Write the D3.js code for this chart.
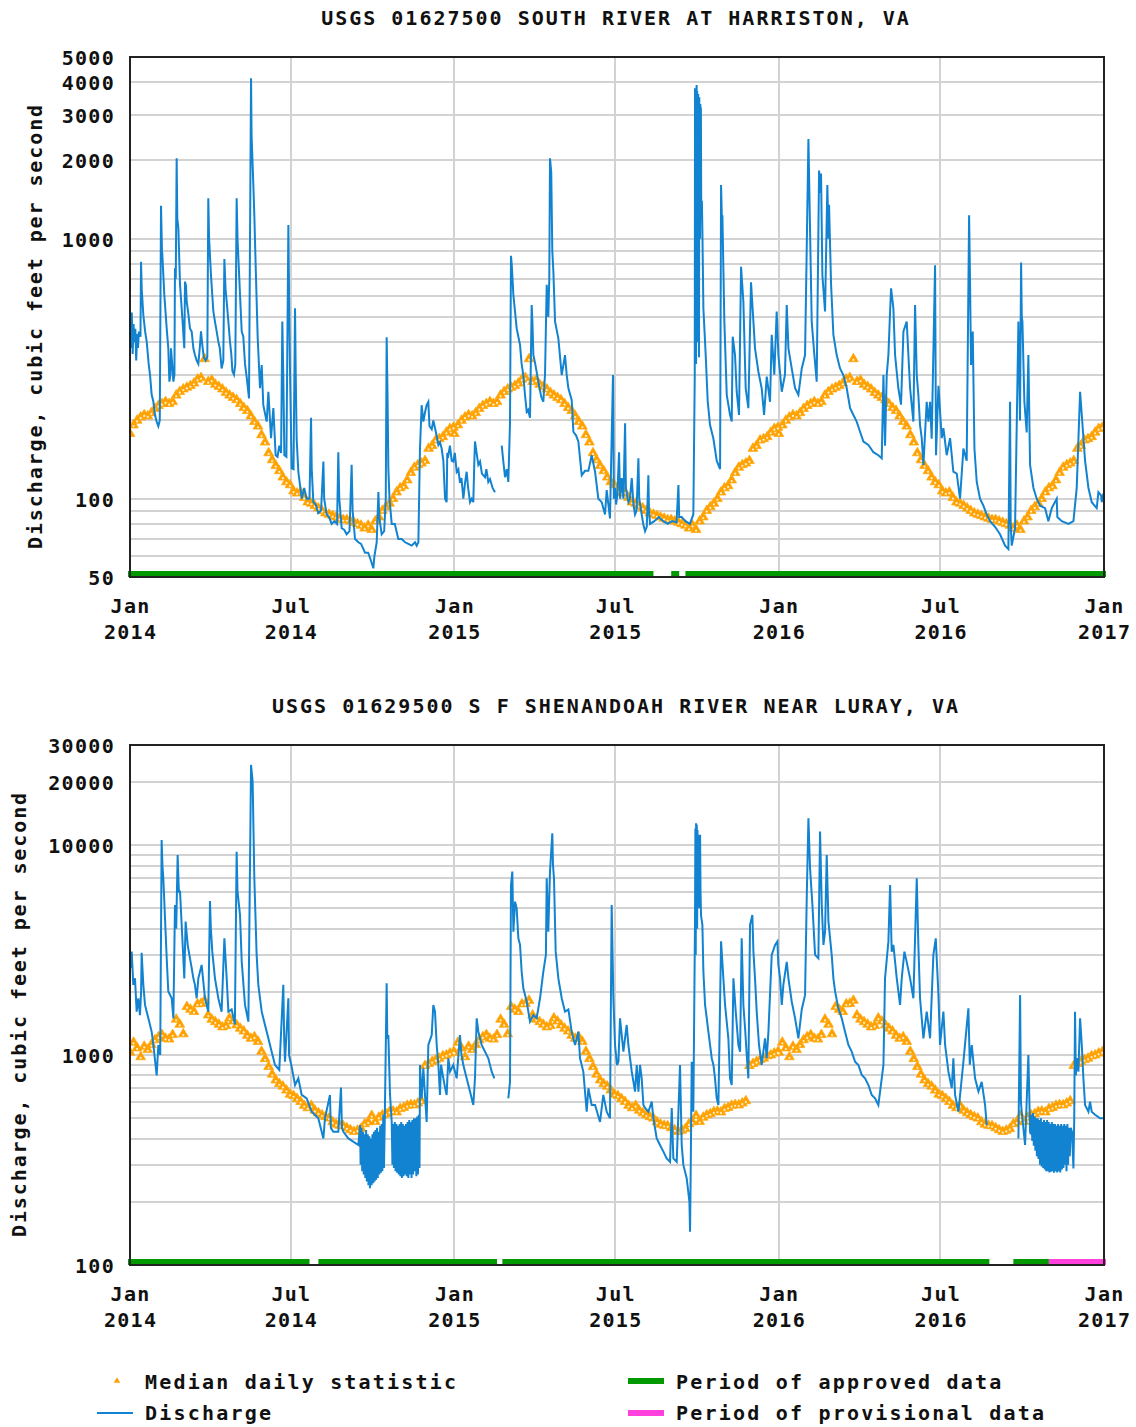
<!DOCTYPE html>
<html><head><meta charset="utf-8">
<script src="https://cdn.jsdelivr.net/npm/d3@7"></script>
<style>
html,body{margin:0;padding:0;background:#fff;}
svg text{font-family:"DejaVu Sans Mono",monospace;font-weight:bold;fill:#111;}
</style></head><body>
<svg id="chart" width="1136" height="1427"></svg>
<script>
// ---------------- DATA ----------------
// Discharge: [days since 2014-01-01, cubic feet per second]; null = no data
const southFlow = [
[0,480],[1,380],[2,520],[3,360],[4,470],[5,400],[6,450],[7,340],[8,430],[9,380],[10,440],[11.8,420],[12.4,816],[13.2,640],[15,509],[17,440],[18.8,402],[21,330],[22.5,300],[24.4,251],[26.3,236],[28.1,210],[30,198],[31.9,190],[33.5,200],[34.9,1340],[36,900],[36.4,866],[38.6,608],[41.3,452],[43.1,379],[44.3,282],[45.5,300],[46.1,379],[47.5,330],[48.8,282],[50,300],[50.6,770],[51.5,700],[52.5,2040],[53.2,1200],[54.4,1100],[56.3,665],[58.9,495],[61.1,379],[61.9,684],[63,660],[63.8,573],[65.5,520],[67.5,452],[69.4,440],[71.3,379],[73.1,357],[75,340],[76.9,330],[78.5,380],[79.9,440],[81.4,390],[83,350],[85,340],[87,350],[88.1,1430],[89,1000],[91.1,725],[93.8,525],[95.6,480],[97.5,440],[99.4,402],[101,380],[103.1,317],[105,340],[106.2,835],[107.5,640],[108.8,573],[110.7,480],[112.5,402],[114,360],[115.2,310],[117,300],[118.5,330],[120,1430],[121,1000],[123.8,608],[125.7,440],[127.5,420],[129.4,330],[131.5,290],[133.9,243],[136.2,4140],[136.8,2500],[138.8,1610],[140,1200],[141.4,790],[143.7,414],[146.3,266],[148.2,327],[150,229],[153.8,198],[155.7,258],[158.7,171],[161.3,223],[163.9,147],[166,145],[168,160],[170,150],[171.4,480],[172.5,300],[173.7,147],[176,145],[178.2,1130],[179,600],[180,317],[181.9,131],[184,130],[185.7,540],[186.5,300],[187.5,171],[189.4,127],[193.2,100],[196,110],[198.8,100],[202,100],[203.7,205],[204.5,130],[206.3,97],[209,95],[211.9,88],[215,90],[217.6,139],[218.5,100],[221.3,87],[224,85],[226.9,80],[230,82],[233,80],[234.4,151],[235.5,100],[238.2,77],[241,76],[243.8,73],[247,75],[249.4,135],[250.5,90],[253.2,70],[257,68],[260,67],[264.5,62],[268,62],[271,58],[273.8,54],[275,60],[277.6,68],[279.5,106],[280.5,85],[283.2,73],[286,75],[287.8,100],[288.8,418],[289.8,250],[290.7,131],[292,100],[294.5,80],[298,80],[301.9,70],[305.7,70],[309.5,68],[313.2,67],[317,66],[320.7,68],[322.6,66],[324.5,68],[326.3,156],[328.2,229],[330.1,198],[332,215],[333.8,229],[335.7,236],[337,190],[339.5,185],[341.3,200],[343.2,187],[345,175],[347,161],[348.8,165],[350.7,156],[352.6,140],[354.5,100],[356.3,97],[357,150],[358.2,147],[360,160],[362,140],[363.8,139],[365.5,150],[367.6,127],[369.5,130],[371.3,115],[373,120],[375.1,100],[377,115],[378.8,127],[380.5,110],[382.6,97],[384.5,100],[386.3,97],[387.5,140],[388.2,166],[390,150],[392,135],[393.9,139],[396,125],[399.5,121],[401,130],[403.2,116],[405.1,119],[408,110],[410.7,106],[414,null],[418.3,160],[420,140],[422,121],[424,130],[425.7,116],[427.6,195],[428.7,860],[429.5,800],[431.4,608],[435.1,452],[437,420],[438.9,390],[440.7,330],[442.6,299],[444.5,250],[446.4,216],[448,220],[450.1,205],[452,556],[452.8,480],[453.9,357],[456,330],[459.5,282],[461.4,260],[463,245],[465.1,236],[467,300],[468.9,665],[470.7,500],[471.8,700],[472.6,2040],[474,1800],[475.2,900],[476.4,747],[478.3,480],[482,414],[485.8,299],[489.5,357],[491.4,299],[493.3,266],[497,240],[498.9,181],[502,175],[504.5,166],[508.3,123],[512,128],[515.8,128],[519.5,147],[523.3,127],[527,100],[530.8,97],[534.5,87],[536.4,108],[540.1,84],[543.5,299],[544.5,100],[545.8,110],
[547,95],[548.5,105],[550.3,151],[551.5,100],[553.3,120],[555.2,100],[557.1,195],[558,110],[560.8,97],[562.5,100],[564.6,120],[566.5,95],[568.3,87],[570,90],[572.1,143],[573,100],[575.8,87],[577.5,80],[579.6,75],[581.5,78],[583.3,123],[584,90],[585.2,80],[590,82],[595,85],[600,82],[605,80],[610,82],[615,81],[617.1,113],[618,85],[620.8,85],[625,82],[630,80],[633.9,87],[635.5,300],[635.8,3790],[636.1,3700],[636.4,400],[636.7,3500],[637,330],[637.3,3600],[637.6,3900],[637.9,900],[638.2,3700],[638.5,500],[638.8,3500],[639.1,400],[639.4,3600],[639.7,600],[640,3400],[640.3,350],[640.6,3500],[640.9,1500],[641.2,3300],[641.5,1000],[641.8,3300],[642.1,1200],[642.4,3200],[642.7,1500],[643,1200],[643.5,1400],[644.1,1065],[645.2,540],[647.8,357],[650.1,236],[652.7,192],[656.5,170],[660.2,140],[664,130],[665.1,1610],[666,1200],[666.6,1230],[668.8,480],[671.5,251],[675.2,210],[677.1,198],[678.2,420],[680.8,357],[682.7,258],[685.3,210],[687.6,780],[690.2,573],[692.8,266],[695.8,223],[698.8,680],[701.5,480],[703.3,379],[707.1,308],[710.8,266],[713.5,210],[716.5,295],[720.2,236],[722.1,427],[725,300],[727.7,525],[729.6,357],[733.4,258],[737,300],[739,556],[740.9,379],[744.6,317],[748.4,266],[752.1,251],[755.9,317],[759.6,357],[761.5,920],[763.4,2420],[764.5,1500],[765.2,1096],[767.1,480],[770.1,357],[772.7,282],[775.4,1830],[776.5,1500],[777.6,1780],[779.1,725],[782.1,525],[784.7,1610],[786,1000],[786.6,1350],[788.9,665],[791.5,427],[795.2,357],[799,317],[802.7,299],[806.5,266],[810.3,223],[814,210],[817.7,198],[821.5,181],[825.3,166],[830.9,161],[836.5,151],[842.1,147],[845.9,143],[847.8,299],[849.6,160],[851.5,299],[853.4,357],[855.3,525],[856.4,645],[859,540],[860.9,357],[864.6,266],[867.6,230],[870.3,440],[874,480],[875.9,357],[877.8,266],[881.5,198],[883.4,556],[885.3,299],[887.1,251],[889,192],[890.9,171],[892.8,135],[896.5,236],[898.4,198],[900.3,236],[902.1,170],[905.9,790],[907,147],[909.7,272],[913.4,171],[915.3,187],[919,147],[922.8,171],[926.5,127],[930.3,125],[934,100],[937.8,156],[941.5,140],[944.2,1230],[945,800],[946.4,327],[948.3,440],[950.2,156],[952.8,116],[956.5,100],[960.3,94],[964,87],[967.8,82],[973.4,78],[979,73],[984.7,66],[988.4,64],[990.3,236],[991,80],[992.2,66],[995.9,77],[999.7,480],[1001.5,200],[1002.7,810],[1003.5,500],[1004.2,480],[1006.4,236],[1009,180],[1010.9,357],[1012.8,135],[1016.6,110],[1020.3,100],[1024.1,94],[1029.7,92],[1033.4,82],[1037.2,92],[1042.8,100],[1043.5,85],[1048.5,82],[1056,80],[1061.6,82],[1065.3,110],[1069.1,258],[1071,210],[1074.7,140],[1078.5,110],[1082.2,97],[1087.8,92],[1089.7,106],[1092.7,103],[1093.5,97],[1095.5,105]
];

const lurayFlow = [
[1,2600],[1.9,3110],[3,2500],[3.7,2160],[5.6,2320],[7.5,1610],[9.4,1865],[11.2,1550],[12.5,2000],[13.1,3070],[15,2160],[16.9,1733],[18.8,1610],[20.6,1500],[24.4,1290],[26.3,1117],[30,800],[31.9,1117],[34,1000],[35.6,10590],[36.5,8000],[37.5,6950],[39.4,4480],[41.3,2890],[43.1,2010],[46.9,1865],[48.8,1497],[50.6,5190],[52,4000],[53.6,8980],[55,6000],[56.3,6010],[58.9,3600],[61.1,2320],[62.6,4330],[64.9,3350],[67.5,2890],[69.4,2600],[71.3,2320],[73.1,2160],[75,1865],[76.9,2320],[80.6,2690],[84.4,1865],[88.1,1610],[90,5420],[91,4000],[92.6,3110],[95.6,2320],[99.4,1865],[103.1,1610],[106.2,3600],[108.8,2320],[110.7,1610],[114.4,1650],[118,1400],[120,9310],[121,6000],[123.8,4650],[125.7,2790],[129.4,1733],[133.2,1443],[136.2,24100],[138,20070],[139.9,6950],[142.5,3000],[144.4,2160],[148.2,1610],[151.9,1391],[155.7,1202],[159.4,1038],[163.2,897],[168,850],[172.5,2160],[173.5,1200],[174.4,930],[178.2,1865],[179,1000],[181.9,880],[185.7,720],[189.4,775],[193.2,646],[198.8,622],[204.5,537],[211.9,500],[217.6,401],[219.4,500],[225,645],[226,450],[228.8,431],[234.4,431],[237.4,700],[238.5,450],[240.1,431],[245.7,401],[257,373],
[258.8,464],[259.5,300],[260.5,450],[261.3,280],[262.3,430],[263,270],[264,420],[264.8,260],[265.7,440],[266.5,250],[267.5,420],[268.3,240],[269.3,410],[270,232],[271,400],[271.8,240],[272.8,420],[273.6,245],[274.5,431],[275.3,250],[276.3,440],[277,255],[278,450],[278.8,260],[279.8,431],[280.6,270],[281.5,460],[282.3,275],[283.3,470],[284,280],[285,520],[285.8,290],[286.8,537],[288.8,2200],[289.5,1200],[290.7,1245],[292.6,646],[294.5,480],
[295.3,300],[296.2,470],[297,290],[298,480],[298.8,280],[299.8,470],[300.6,275],[301.6,460],[302.4,270],[303.4,470],[304.2,265],[305.2,480],[306,260],[307,470],[307.8,265],[308.8,460],[309.6,270],[310.6,470],[311.4,265],[312.4,480],[313.2,260],[314.2,490],[315,270],[316,480],[316.8,260],[317.8,490],[318.6,270],[319.6,500],[320.4,280],[321.4,500],[322.2,265],[323.2,510],[324,270],[325,520],[325.8,290],[326.3,897],[328.2,622],[330.1,866],[333.8,480],[335.7,1117],[339.5,1245],[341.3,1733],[343.2,1610],[345.1,1117],[347,897],[348.8,646],[350,900],[352.6,775],[354.5,700],[356.3,646],[358.2,966],[360.1,834],[363.8,897],[367.6,775],[371.3,1245],[373,1000],[375.1,897],[378.8,775],[382.6,670],[386.3,578],[388.2,775],[390.1,1497],[392,1293],[395.7,1117],[399.5,1038],[403.2,966],[407,834],[410,775],[414,null],
[425.7,622],[427.6,745],[428.7,6460],[430.2,7480],[431.4,3870],[433.3,5380],[435.1,5000],[437,3600],[438.9,3350],[440.7,2500],[442.6,2080],[446.4,1800],[450.1,1443],[453.9,1550],[457.6,1500],[461.4,1865],[465.1,2500],[468,3000],[468.9,6950],[470.7,3870],[472.6,7480],[475.2,11400],[476,8000],[477.1,6950],[479,3110],[482,2320],[485.8,1865],[489.5,1610],[493.3,1650],[497,1293],[500.8,1117],[504.5,1293],[506.4,966],[510.1,834],[513.9,537],[515.8,695],[519.5,578],[523.3,578],[528.9,480],[532.6,646],[536.4,537],[540.1,500],[542,5190],[543.9,1865],[545.8,1117],[548,897],
[549.6,930],[551.4,1497],[553.3,1245],[555.2,1038],[558.9,1391],[560.8,1117],[564.6,834],[568.3,670],[570.2,897],[572.1,670],[573.9,897],[575.8,775],[577.7,578],[579.6,560],[583.3,537],[587.1,600],[588.9,500],[592.7,401],[596.4,373],[600.2,347],[603.9,322],[607.7,310],[609.6,560],[611.4,322],[615.2,310],[618.9,897],[620.8,373],[622.7,299],[624.6,278],[626.4,259],[629.5,200],[630.2,144],[631,300],[632.1,930],[633.9,537],[635.8,4480],[636.2,12000],[636.6,3000],[637,12700],[637.4,5000],[637.8,12500],[638.2,4000],[638.6,11800],[639,6000],[639.4,11000],[639.8,8000],[640.2,11200],[640.6,5000],[641,10800],[641.5,11200],[642,6000],[642.6,4600],[644.1,4170],[645.2,2500],[647.1,1733],[649,1497],[650.8,1293],[652.7,1117],[654.6,966],[656.5,897],[658.3,775],[660.2,622],[662.1,578],[665.1,3480],[667.7,2320],[669.6,1733],[673.3,1202],[675.2,775],[677.1,720],[679,2320],[681.6,1610],[684.6,1117],[686.5,1038],[688.3,3600],[690.2,1733],[692.1,1342],[694,1000],[695.8,775],[697.7,4170],[700.3,4650],[701.5,3110],[703.3,2320],[705.2,1610],[707.8,1117],[710.8,897],[714.6,1202],[716.5,966],[718.4,1293],[722.1,3000],[725.9,3350],[728.5,3480],[729.6,2690],[731.5,2320],[733.4,1733],[735.2,2160],[739,2780],[740.9,2320],[744.6,1800],[748.4,1497],[752.1,1202],[755.9,1650],[759.6,1930],[761.5,5600],[763.4,13430],[765.2,7800],[767.9,5190],[770.9,3000],[774.6,2890],[776.5,11600],[778.4,5190],[780.3,3350],[782.1,3870],[784,8980],[785.9,4330],[789.6,3000],[791.5,2320],[793.4,2010],[797.1,1670],[800.9,1497],[804.6,1293],[808.4,1117],[812.1,1038],[815.9,930],[819.6,897],[823.4,805],[827.1,775],[830.9,720],[834.6,646],[838.4,622],[842.1,578],[845.9,775],[847.8,897],[849.6,2320],[853.4,3480],[855.3,6460],[857.1,3110],[859,3350],[862.8,2320],[866.5,1733],[868.4,2320],[871.4,3110],[874,2780],[877.8,2320],[881.5,1865],[885.3,6950],[887.1,3350],[889,1865],[892.8,1202],[896.5,1610],[900.3,1202],[904,3000],[906.7,3600],[909.7,1935],[911.5,1117],[915.3,1610],[917.2,1117],[920.9,834],[924.7,695],[926.5,966],[928.4,646],[932.2,537],[937.8,930],[943.4,1670],[945,900],[947.2,1117],[950.9,775],[954.7,670],[958.4,745],[962.2,578],[964,464],[980,null],
[999.7,401],[1001.6,1930],[1002.5,600],[1003.4,537],[1007.2,373],[1010.9,1000],[1012.8,431],[1013.6,420],[1014.5,520],[1015.3,390],[1016.2,530],[1017,370],[1018,510],[1018.8,350],[1019.7,500],[1020.5,330],[1021.5,500],[1022.3,320],[1023.2,490],[1024,300],[1025,500],[1025.8,295],[1026.8,480],[1027.6,290],[1028.5,490],[1029.3,285],[1030.3,480],[1031,280],[1032,490],[1032.8,280],[1033.8,480],[1034.6,276],[1035.5,470],[1036.3,278],[1037.3,480],[1038,280],[1039,470],[1039.8,275],[1040.8,470],[1041.6,280],[1042.5,460],[1043.3,276],[1044.3,470],[1045,280],[1046,460],[1046.8,276],[1047.8,470],[1048.6,285],[1049.5,460],[1050.3,290],[1051.3,470],[1052,300],[1053,460],[1053.8,280],[1054.8,470],[1055.6,300],[1056.5,450],[1057.5,330],[1058.5,450],[1060,430],[1061.6,288],[1062.5,500],[1063.4,1610],[1064.3,800],[1065.3,966],[1067.2,834],[1069.1,1497],[1071,1117],[1072.8,775],[1074.7,578],[1078.5,537],[1080.3,600],[1082.2,537],[1086,520],[1091.6,500],[1095.5,500]
];

// Median daily statistic, every 4th day of the year (day 0, 4, 8 ... 364)
const southMedian = [178,192,200,206,210,208,214,222,228,232,236,232,236,250,258,264,268,272,278,288,292,345,282,286,275,270,264,256,250,245,240,232,224,218,208,198,190,176,165,150,141,134,128,121,116,113,107,105,106,101,97,96,94,92,90,88,87,86,85,84,83,83,82,81,80,79,77,79,76,82,85,90,93,96,100,106,110,112,118,126,132,135,137,140,156,160,168,170,173,180,186,188];
const lurayMedian = [1030,1150,1080,980,1100,1060,1120,1180,1220,1250,1200,1190,1250,1480,1400,1260,1700,1650,1610,1750,1760,1820,1550,1480,1440,1400,1360,1380,1500,1450,1390,1340,1300,1240,1200,1220,1160,1040,960,880,810,760,730,710,680,650,640,620,600,575,560,575,545,530,518,508,500,480,468,462,460,450,440,432,438,446,470,480,515,482,505,518,525,537,540,535,555,562,575,580,578,590,605,890,910,930,950,965,990,1000,1020,1035];
const medianYears = [2014, 2015, 2016];

// Data-status periods
const southApproved = [["2014-01-01","2015-08-13"],["2015-09-02","2015-09-11"],["2015-09-18","2017-01-01"]];
const southProvisional = [];
const lurayApproved = [["2014-01-01","2014-07-22"],["2014-08-01","2015-02-18"],["2015-02-24","2016-08-25"],["2016-09-21","2016-10-31"]];
const lurayProvisional = [["2016-10-31","2017-01-01"]];

// Axis labels
const southYTicks = [50,100,1000,2000,3000,4000,5000];
const lurayYTicks = [100,1000,10000,20000,30000];
const xTickMonths = ["Jan","Jul","Jan","Jul","Jan","Jul","Jan"];
const xTickYears = ["2014","2014","2015","2015","2016","2016","2017"];
const southTitle = "USGS 01627500 SOUTH RIVER AT HARRISTON, VA";
const lurayTitle = "USGS 01629500 S F SHENANDOAH RIVER NEAR LURAY, VA";
const yAxisTitle = "Discharge, cubic feet per second";
const legendItems = ["Median daily statistic","Discharge","Period of approved data","Period of provisional data"];

// ---------------- DRAW ----------------
const BLUE = "#1283d0", ORANGE = "#ffa000", GREEN = "#009a00", PINK = "#ff40dd", GRID = "#d2d2d2";
const FS = 20;
const svg = d3.select("#chart");
const START = Date.UTC(2014,0,1);
const END = Date.UTC(2017,0,1);
const toDate = d => new Date(START + d*864e5);
const parse = s => new Date(s + "T00:00:00Z");
const L = 130, R = 1104;
const x = d3.scaleUtc().domain([new Date(START), new Date(END)]).range([L, R]);

function drawPanel(cfg, idx) {
  const y = d3.scaleLog().domain(cfg.domain).range([cfg.bottom, cfg.top]);
  const g = svg.append("g");
  // grid
  g.append("g").selectAll("line").data(y.ticks()).join("line")
    .attr("x1", L).attr("x2", R).attr("y1", d => Math.round(y(d))).attr("y2", d => Math.round(y(d)))
    .attr("stroke", GRID).attr("stroke-width", 2);
  const xt = x.ticks(d3.utcMonth.every(6));
  g.append("g").selectAll("line").data(xt).join("line")
    .attr("x1", d => Math.round(x(d))).attr("x2", d => Math.round(x(d))).attr("y1", cfg.top).attr("y2", cfg.bottom)
    .attr("stroke", GRID).attr("stroke-width", 2);

  const clipId = "clip" + idx;
  svg.append("clipPath").attr("id", clipId).append("rect")
    .attr("x", L).attr("y", cfg.top).attr("width", R - L).attr("height", cfg.bottom - cfg.top);
  const plot = g.append("g").attr("clip-path", `url(#${clipId})`);

  // median markers
  const med = [];
  medianYears.forEach(yr => cfg.median.forEach((v, i) => {
    med.push([new Date(Date.UTC(yr,0,1) + i*4*864e5), v]);
  }));
  const tri = d3.symbol(d3.symbolTriangle, 42)();
  plot.append("g").selectAll("path").data(med).join("path")
    .attr("d", tri)
    .attr("transform", d => `translate(${x(d[0])},${y(d[1])})`)
    .attr("fill", ORANGE).attr("stroke", "#ffaa10").attr("stroke-width", 0.8);
  plot.append("g").selectAll("circle").data(med).join("circle")
    .attr("cx", d => x(d[0])).attr("cy", d => y(d[1]) + 1).attr("r", 1.1)
    .attr("fill", "#fff1d0");

  // discharge line
  const line = d3.line().defined(d => d[1] != null)
    .x(d => x(toDate(d[0]))).y(d => y(d[1]));
  plot.append("path").datum(cfg.flow).attr("d", line)
    .attr("fill", "none").attr("stroke", BLUE).attr("stroke-width", 2).attr("stroke-linejoin", "miter");

  // data status bars
  const bar = (periods, color) => g.append("g").selectAll("rect").data(periods).join("rect")
    .attr("x", d => { const s = parse(d[0]); return x(s) - (+s === START ? 2 : 0); })
    .attr("width", d => { const s = parse(d[0]), e = parse(d[1]);
      return x(e) - x(s) + (+s === START ? 2 : 0) + (+e === END ? 2 : 0); })
    .attr("y", cfg.bottom - 6).attr("height", 6).attr("fill", color);
  bar(cfg.approved, GREEN);
  bar(cfg.provisional, PINK);

  // border
  g.append("rect").attr("x", L).attr("y", cfg.top).attr("width", R - L).attr("height", cfg.bottom - cfg.top)
    .attr("fill", "none").attr("stroke", "#222").attr("stroke-width", 2);

  // y tick labels
  g.append("g").selectAll("text").data(cfg.yTicks).join("text")
    .attr("x", 115).attr("y", d => y(d) + 1).attr("text-anchor", "end").attr("dominant-baseline", "central")
    .attr("font-size", FS).attr("letter-spacing", 1.3).text(d => d);
  // x tick labels
  const xl = g.append("g").selectAll("g").data(xt).join("g");
  xl.append("text").attr("x", d => x(d) + 0.6).attr("y", cfg.bottom + 29).attr("text-anchor", "middle")
    .attr("dominant-baseline", "central").attr("font-size", FS).attr("letter-spacing", 1.3)
    .text((d, i) => xTickMonths[i]);
  xl.append("text").attr("x", d => x(d) + 0.6).attr("y", cfg.bottom + 55).attr("text-anchor", "middle")
    .attr("dominant-baseline", "central").attr("font-size", FS).attr("letter-spacing", 1.3)
    .text((d, i) => xTickYears[i]);
  // title
  svg.append("text").attr("x", 616).attr("y", cfg.titleY).attr("text-anchor", "middle").attr("dominant-baseline", "central")
    .attr("font-size", FS).attr("letter-spacing", 2.0).text(cfg.title);
  // y axis title
  svg.append("text").attr("transform", `translate(${cfg.axisX},${cfg.axisY}) rotate(-90)`)
    .attr("text-anchor", "middle").attr("dominant-baseline", "central")
    .attr("font-size", FS).attr("letter-spacing", 1.9).text(yAxisTitle);
}

drawPanel({title: southTitle, titleY: 18, top: 57, bottom: 577, domain: [50, 5000], yTicks: southYTicks,
  flow: southFlow, median: southMedian, approved: southApproved, provisional: southProvisional,
  axisX: 35, axisY: 326}, 0);
drawPanel({title: lurayTitle, titleY: 706, top: 745, bottom: 1265, domain: [100, 30000], yTicks: lurayYTicks,
  flow: lurayFlow, median: lurayMedian, approved: lurayApproved, provisional: lurayProvisional,
  axisX: 19, axisY: 1014}, 1);

// legend
const lg = svg.append("g");
lg.append("path").attr("d", d3.symbol(d3.symbolTriangle, 18)()).attr("transform", "translate(117,1381)").attr("fill", ORANGE);
lg.append("line").attr("x1", 97).attr("x2", 133).attr("y1", 1413).attr("y2", 1413).attr("stroke", BLUE).attr("stroke-width", 2);
lg.append("rect").attr("x", 628).attr("y", 1378).attr("width", 36).attr("height", 6).attr("fill", GREEN);
lg.append("rect").attr("x", 628).attr("y", 1410).attr("width", 36).attr("height", 6).attr("fill", PINK);
const lpos = [[145,1382],[145,1413],[676,1382],[676,1413]];
lg.selectAll("text").data(legendItems).join("text")
  .attr("x", (d, i) => lpos[i][0]).attr("y", (d, i) => lpos[i][1]).attr("dominant-baseline", "central")
  .attr("font-size", FS).attr("letter-spacing", 2.2).text(d => d);
</script>
</body></html>
